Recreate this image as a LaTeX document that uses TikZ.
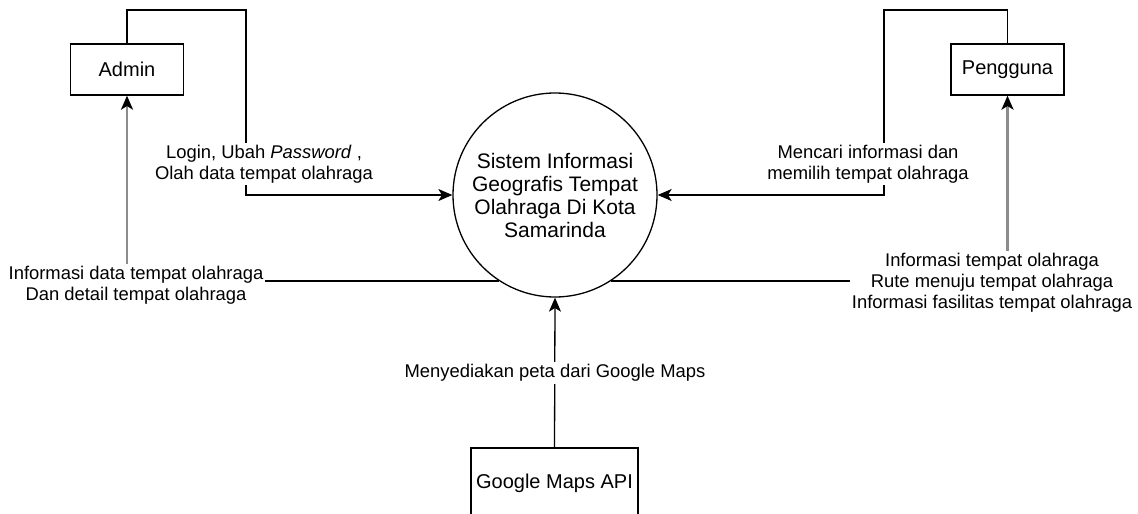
\documentclass[tikz,border=0pt]{standalone}
\usepackage{fontspec}
\setmainfont{Liberation Sans}
\usetikzlibrary{arrows.meta,positioning,calc}

\begin{document}
\begin{tikzpicture}[
  x=0.5pt, y=-0.5pt,
  entity/.style={draw, line width=0.65pt, minimum width=56.5pt,
                 minimum height=25.5pt, inner sep=0pt,
                 font=\fontsize{10}{11.5}\selectfont},
  process/.style={draw, circle, line width=0.65pt, minimum size=102pt,
                  inner sep=0pt, align=center,
                  font=\fontsize{10.5}{11.5}\selectfont},
  lbl/.style={fill=white, inner sep=1pt, align=center,
              font=\fontsize{9.2}{10.5}\selectfont},
  flow/.style={-{Stealth[length=7pt, width=6pt, inset=1.8pt]},
               line width=0.65pt},
  back/.style={flow, draw=black!45, line width=1.2pt,
               -{Stealth[black, length=7pt, width=6pt, inset=1.8pt]}}
]
\clip (0,0) rectangle (1138,513);
\fill[white] (0,0) rectangle (1138,513);

% external entities and the system
\node[entity] (admin) at (127,69.5) {Admin};
\node[entity] (user) at (1007.5,69.5) {Pengguna};
\node[entity, minimum width=83.5pt, minimum height=35pt] (gmaps) at (554.5,483) {Google Maps API};
\node[process] (sistem) at (555,195) {Sistem Informasi\\Geografis Tempat\\Olahraga Di Kota\\Samarinda};

\coordinate (adminTop) at (246,10);
\coordinate (userTop) at (884,10);
\coordinate (adminBend) at (admin.south |- sistem.237.5);
\coordinate (userBend) at (user.south |- sistem.-57.5);

% data flows
\draw[flow] (admin.north) |- (adminTop) |- (sistem.west);
\draw[flow] (user.north) |- (userTop) |- (sistem.east);
\draw[line width=0.65pt] (sistem.237.5) -- (adminBend);
\draw[back] (adminBend) -- (admin.south);
\draw[line width=0.65pt] (sistem.-57.5) -- (userBend);
\draw[back] (userBend) -- (user.south);
\draw[flow] (gmaps.north) -- (sistem.south);

% flow labels
\node[lbl] (lblLogin) at (264,164) {Login, Ubah \textit{Password} ,\\Olah data tempat olahraga};
\node[lbl] (lblInfoAdmin) at (136,285) {Informasi data tempat olahraga\\Dan detail tempat olahraga};
\node[lbl] (lblCari) at (868,164) {Mencari informasi dan\\memilih tempat olahraga};
\node[lbl] (lblInfoUser) at (992,283) {Informasi tempat olahraga\\Rute menuju tempat olahraga\\Informasi fasilitas tempat olahraga};
\node[lbl] (lblMaps) at (555,373) {Menyediakan peta dari Google Maps};
\end{tikzpicture}
\end{document}
